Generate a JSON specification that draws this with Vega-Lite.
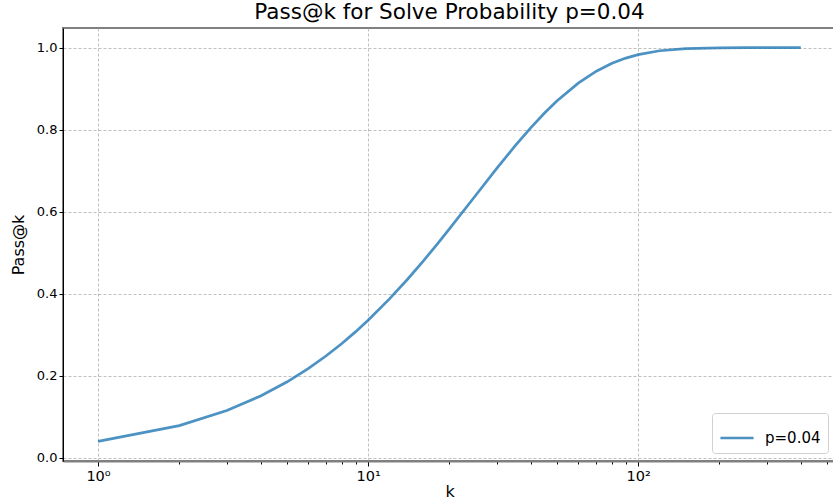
{
  "$schema": "https://vega.github.io/schema/vega-lite/v6.json",
  "autosize": "none",
  "width": 773,
  "height": 433,
  "padding": {"left": 63, "top": 28, "right": 0, "bottom": 40},
  "background": "white",
  "config": {
    "font": "DejaVu Sans",
    "view": {"stroke": "#808080", "strokeWidth": 2}
  },
  "title": {"text": "Pass@k for Solve Probability p=0.04", "fontSize": 21.5, "fontWeight": "normal", "font": "DejaVu Sans", "color": "#000000", "offset": 5},
  "data": {
    "values": [
      {"k": 1, "pass": 0.04, "s": "p=0.04"},
      {"k": 2, "pass": 0.0784, "s": "p=0.04"},
      {"k": 3, "pass": 0.1153, "s": "p=0.04"},
      {"k": 4, "pass": 0.1507, "s": "p=0.04"},
      {"k": 5, "pass": 0.1846, "s": "p=0.04"},
      {"k": 6, "pass": 0.2172, "s": "p=0.04"},
      {"k": 7, "pass": 0.2486, "s": "p=0.04"},
      {"k": 8, "pass": 0.2786, "s": "p=0.04"},
      {"k": 9, "pass": 0.3075, "s": "p=0.04"},
      {"k": 10, "pass": 0.3352, "s": "p=0.04"},
      {"k": 12, "pass": 0.3873, "s": "p=0.04"},
      {"k": 14, "pass": 0.4353, "s": "p=0.04"},
      {"k": 16, "pass": 0.4796, "s": "p=0.04"},
      {"k": 18, "pass": 0.5204, "s": "p=0.04"},
      {"k": 20, "pass": 0.558, "s": "p=0.04"},
      {"k": 25, "pass": 0.6396, "s": "p=0.04"},
      {"k": 30, "pass": 0.7061, "s": "p=0.04"},
      {"k": 35, "pass": 0.7604, "s": "p=0.04"},
      {"k": 40, "pass": 0.8046, "s": "p=0.04"},
      {"k": 45, "pass": 0.8407, "s": "p=0.04"},
      {"k": 50, "pass": 0.8701, "s": "p=0.04"},
      {"k": 60, "pass": 0.9136, "s": "p=0.04"},
      {"k": 70, "pass": 0.9426, "s": "p=0.04"},
      {"k": 80, "pass": 0.9618, "s": "p=0.04"},
      {"k": 90, "pass": 0.9746, "s": "p=0.04"},
      {"k": 100, "pass": 0.9831, "s": "p=0.04"},
      {"k": 120, "pass": 0.9925, "s": "p=0.04"},
      {"k": 150, "pass": 0.9978, "s": "p=0.04"},
      {"k": 200, "pass": 0.9997, "s": "p=0.04"},
      {"k": 250, "pass": 1.0, "s": "p=0.04"},
      {"k": 300, "pass": 1.0, "s": "p=0.04"},
      {"k": 400, "pass": 1.0, "s": "p=0.04"}
    ]
  },
  "mark": {"type": "line", "strokeWidth": 2.7, "opacity": 0.8, "clip": true},
  "encoding": {
    "x": {
      "field": "k", "type": "quantitative",
      "scale": {"type": "log", "domain": [0.742, 540], "nice": false},
      "axis": {
        "title": "k", "titleFontSize": 16, "titleFontWeight": "normal", "titleColor": "#000", "titlePadding": 1,
        "values": [1, 2, 3, 4, 5, 6, 7, 8, 9, 10, 20, 30, 40, 50, 60, 70, 80, 90, 100, 200, 300, 400, 500],
        "labelExpr": "datum.value == 1 ? '10⁰' : datum.value == 10 ? '10¹' : datum.value == 100 ? '10²' : ''",
        "labelFontSize": 14.5, "labelColor": "#000", "labelPadding": 3,
        "tickSize": {"condition": {"test": "indexof([1,10,100], datum.value) >= 0", "value": 5}, "value": 3},
        "tickColor": "#000",
        "grid": true,
        "gridDash": [3, 2],
        "gridColor": "#b0b0b0",
        "gridOpacity": {"condition": {"test": "indexof([1,10,100], datum.value) >= 0", "value": 0.8}, "value": 0},
        "domainColor": "#808080", "domainWidth": 2
      }
    },
    "y": {
      "field": "pass", "type": "quantitative",
      "scale": {"domain": [-0.008, 1.048], "nice": false, "zero": false},
      "axis": {
        "title": "Pass@k", "titleFontSize": 16, "titleFontWeight": "normal", "titleColor": "#000", "titlePadding": 10,
        "values": [0, 0.2, 0.4, 0.6, 0.8, 1.0],
        "format": ".1f",
        "labelFontSize": 13, "labelColor": "#000",
        "tickColor": "#000", "tickSize": 4,
        "grid": true, "gridDash": [3, 2], "gridColor": "#b0b0b0", "gridOpacity": 0.8,
        "domainColor": "#000", "domainWidth": 1
      }
    },
    "color": {
      "field": "s", "type": "nominal",
      "scale": {"range": ["#1f77b4"]},
      "legend": {
        "title": null, "orient": "bottom-right", "offset": 8,
        "symbolType": "stroke", "symbolStrokeWidth": 2.7, "symbolSize": 1100, "symbolOpacity": 0.8,
        "labelFontSize": 15, "labelColor": "#000", "labelOffset": 10,
        "strokeColor": "#d0d0d0", "fillColor": "white", "padding": 7, "cornerRadius": 3
      }
    }
  }
}
